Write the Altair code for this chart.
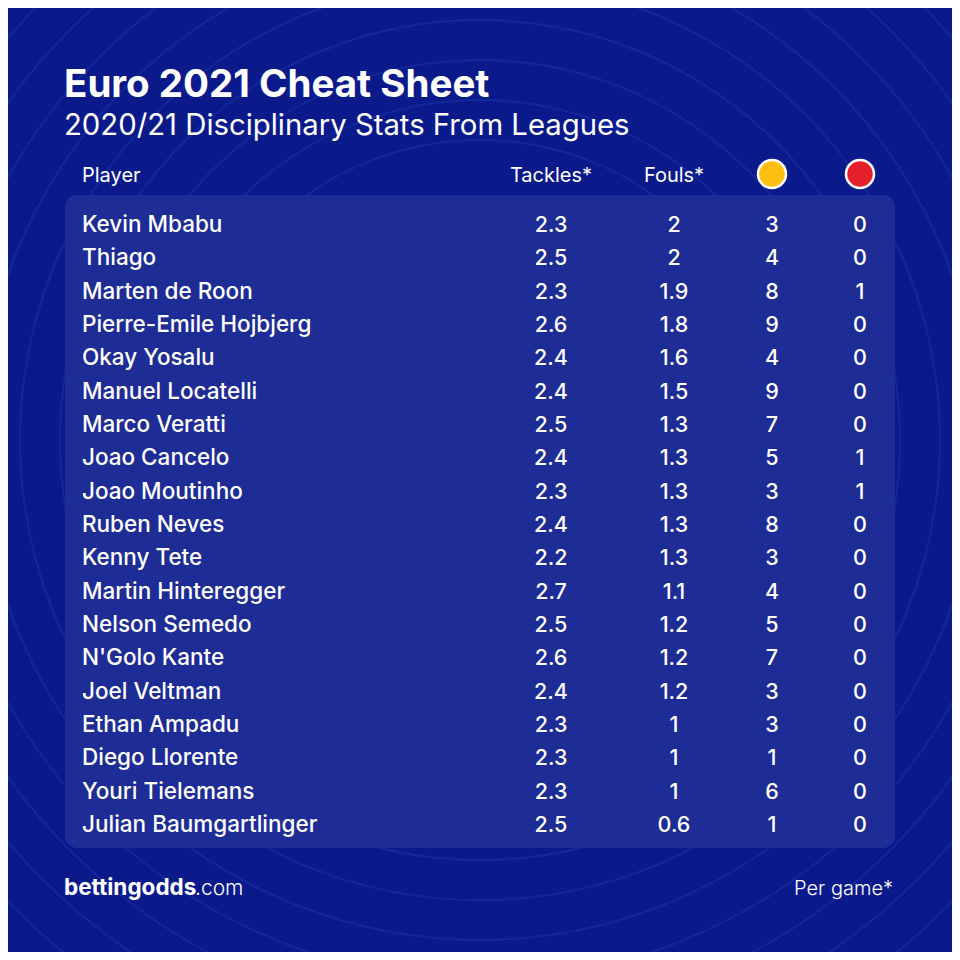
import altair as alt
import pandas as pd

players = ["Kevin Mbabu", "Thiago", "Marten de Roon", "Pierre-Emile Hojbjerg", "Okay Yosalu",
           "Manuel Locatelli", "Marco Veratti", "Joao Cancelo", "Joao Moutinho", "Ruben Neves",
           "Kenny Tete", "Martin Hinteregger", "Nelson Semedo", "N'Golo Kante", "Joel Veltman",
           "Ethan Ampadu", "Diego Llorente", "Youri Tielemans", "Julian Baumgartlinger"]
tackles = [2.3, 2.5, 2.3, 2.6, 2.4, 2.4, 2.5, 2.4, 2.3, 2.4, 2.2, 2.7, 2.5, 2.6, 2.4, 2.3, 2.3, 2.3, 2.5]
fouls = [2, 2, 1.9, 1.8, 1.6, 1.5, 1.3, 1.3, 1.3, 1.3, 1.3, 1.1, 1.2, 1.2, 1.2, 1, 1, 1, 0.6]
yellow_cards = [3, 4, 8, 9, 4, 9, 7, 5, 3, 8, 3, 4, 5, 7, 3, 3, 1, 6, 1]
red_cards = [0, 0, 1, 0, 0, 0, 0, 1, 1, 0, 0, 0, 0, 0, 0, 0, 0, 0, 0]
headers = ["Player", "Tackles*", "Fouls*"]

TITLE = "Euro 2021 Cheat Sheet"
SUBTITLE = "2020/21 Disciplinary Stats From Leagues"

BG = "#0a1a8b"
PANEL = "#1e2c95"
FONT = "Inter"

# layout (page pixel space)
ROW0, ROWSTEP = 232, 33.33
COLX = {"player": 82, "tackles": 551, "fouls": 674, "yellow": 772, "red": 860}

def fmt(v):
    return f"{v:g}"

rows = []
for i, p in enumerate(players):
    yb = ROW0 + i * ROWSTEP
    rows.append({"x": COLX["player"], "y": yb, "t": p, "a": "left"})
    rows.append({"x": COLX["tackles"], "y": yb, "t": fmt(tackles[i]), "a": "center"})
    rows.append({"x": COLX["fouls"], "y": yb, "t": fmt(fouls[i]), "a": "center"})
    rows.append({"x": COLX["yellow"], "y": yb, "t": str(yellow_cards[i]), "a": "center"})
    rows.append({"x": COLX["red"], "y": yb, "t": str(red_cards[i]), "a": "center"})
df = pd.DataFrame(rows)

X = alt.X("x:Q", scale=alt.Scale(domain=[8, 952], nice=False, zero=False), axis=None)
Y = alt.Y("y:Q", scale=alt.Scale(domain=[8, 952], nice=False, zero=False, reverse=True), axis=None)

# background rings
ring_r = [300, 340, 380, 420, 460, 500, 540, 580, 620, 660]
rings = pd.DataFrame({"x": [480] * len(ring_r), "y": [440] * len(ring_r),
                      "s": [(2 * r) ** 2 for r in ring_r]})
ring_layer = alt.Chart(rings).mark_point(shape="circle", filled=False, stroke="#2f55d6",
                                         strokeWidth=2, opacity=0.22).encode(
    x=X, y=Y, size=alt.Size("s:Q", scale=None))

panel = alt.Chart(pd.DataFrame({"x": [65], "x2": [895], "y": [195], "y2": [848]})).mark_rect(
    color=PANEL, cornerRadius=12).encode(x=X, x2="x2:Q", y=Y, y2="y2:Q")

left = alt.Chart(df[df.a == "left"]).mark_text(align="left", baseline="alphabetic", font=FONT,
                                               fontSize=22.5, fontWeight=500, color="white").encode(x=X, y=Y, text="t:N")
center = alt.Chart(df[df.a == "center"]).mark_text(align="center", baseline="alphabetic", font=FONT,
                                                   fontSize=21.5, fontWeight=500, color="white").encode(x=X, y=Y, text="t:N")

hdr = pd.DataFrame({"x": [COLX["player"], COLX["tackles"], COLX["fouls"]],
                    "y": [182, 182, 182], "t": headers, "a": ["left", "center", "center"]})
hdr_left = alt.Chart(hdr[hdr.a == "left"]).mark_text(align="left", baseline="alphabetic", font=FONT,
                                                     fontSize=20, color="white").encode(x=X, y=Y, text="t:N")
hdr_center = alt.Chart(hdr[hdr.a == "center"]).mark_text(align="center", baseline="alphabetic", font=FONT,
                                                         fontSize=20, color="white").encode(x=X, y=Y, text="t:N")

cards = pd.DataFrame({"x": [COLX["yellow"], COLX["red"]], "y": [174, 174],
                      "c": ["#fcbf10", "#e5202a"], "s": [28 ** 2, 28 ** 2]})
card_layer = alt.Chart(cards).mark_point(shape="circle", filled=True, opacity=1, stroke="white",
                                         strokeWidth=2.5).encode(
    x=X, y=Y, size=alt.Size("s:Q", scale=None), fill=alt.Fill("c:N", scale=None))

title = alt.Chart(pd.DataFrame({"x": [64], "y": [97], "t": [TITLE]})).mark_text(
    align="left", baseline="alphabetic", font=FONT, fontSize=38.5, fontWeight="bold", color="white"
).encode(x=X, y=Y, text="t:N")
subtitle = alt.Chart(pd.DataFrame({"x": [64], "y": [135], "t": [SUBTITLE]})).mark_text(
    align="left", baseline="alphabetic", font=FONT, fontSize=29.3, fontWeight=400, color="white"
).encode(x=X, y=Y, text="t:N")

brand = alt.Chart(pd.DataFrame({"x": [64], "y": [895], "t": ["bettingodds"]})).mark_text(
    align="left", baseline="alphabetic", font=FONT, fontSize=22.5, fontWeight="bold", color="white"
).encode(x=X, y=Y, text="t:N")
brand2 = alt.Chart(pd.DataFrame({"x": [195], "y": [895], "t": [".com"]})).mark_text(
    align="left", baseline="alphabetic", font=FONT, fontSize=21, fontWeight=300, color="white"
).encode(x=X, y=Y, text="t:N")
note = alt.Chart(pd.DataFrame({"x": [893], "y": [895], "t": ["Per game*"]})).mark_text(
    align="right", baseline="alphabetic", font=FONT, fontSize=20, fontWeight=300, color="white"
).encode(x=X, y=Y, text="t:N")

chart = alt.layer(ring_layer, panel, left, center, hdr_left, hdr_center, card_layer,
                  title, subtitle, brand, brand2, note).properties(
    width=944, height=944, padding=0, autosize=alt.AutoSizeParams(type="none"),
    background=BG
).configure_view(stroke=None)

chart.save("out.html", embed_options={"renderer": "svg", "actions": False})
